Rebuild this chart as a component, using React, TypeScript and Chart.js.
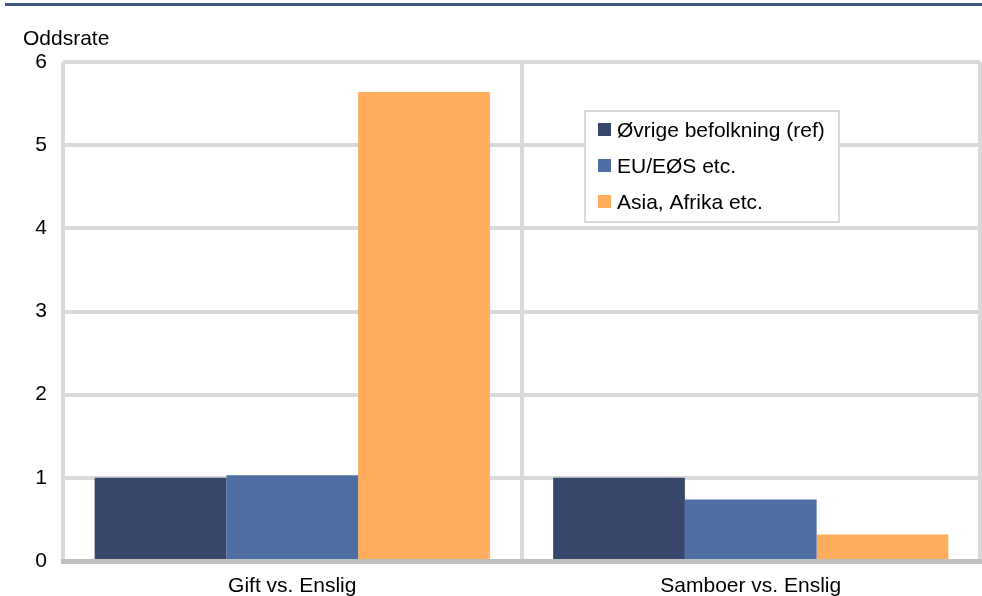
import React, { useEffect, useRef } from "react";
import { Chart, registerables } from "chart.js";

Chart.register(...registerables);

const categories = ["Gift vs. Enslig", "Samboer vs. Enslig"];
const seriesNames = ["Øvrige befolkning (ref)", "EU/EØS etc.", "Asia, Afrika etc."];
const refValues = [1.0, 1.0];
const euValues = [1.03, 0.74];
const asiaValues = [5.64, 0.32];
const seriesColors = ["#36476b", "#4f6ea3", "#ffac5c"];
const yTicks = [0, 1, 2, 3, 4, 5, 6];
const yTitle = "Oddsrate";

const FONT = "'Liberation Sans', Arial, sans-serif";

const decorPlugin = {
  id: "decor",
  beforeDraw(chart: any) {
    const ctx = chart.ctx;
    ctx.save();
    ctx.fillStyle = "#3f5886";
    ctx.fillRect(5, 3, chart.width - 5, 3);
    ctx.fillStyle = "#000";
    ctx.font = `21px ${FONT}`;
    ctx.textBaseline = "alphabetic";
    ctx.textAlign = "left";
    ctx.fillText(yTitle, 23, 45);
    ctx.restore();
  },
  afterDraw(chart: any) {
    const ctx = chart.ctx;
    const bx = 585, by = 111, bw = 254, bh = 111;
    ctx.save();
    ctx.fillStyle = "#fff";
    ctx.fillRect(bx, by, bw, bh);
    ctx.strokeStyle = "#d9d9d9";
    ctx.lineWidth = 2;
    ctx.strokeRect(bx, by, bw, bh);
    ctx.font = `21px ${FONT}`;
    ctx.textBaseline = "middle";
    ctx.textAlign = "left";
    chart.data.datasets.forEach((ds: any, i: number) => {
      const cy = 130 + i * 36;
      ctx.fillStyle = ds.backgroundColor;
      ctx.fillRect(598, cy - 7, 13, 13);
      ctx.fillStyle = "#000";
      ctx.fillText(ds.label, 617, cy + 1);
    });
    ctx.restore();
  },
};

export default function App() {
  const ref = useRef<HTMLCanvasElement>(null);
  useEffect(() => {
    document.body.style.margin = "0";
    const canvas = ref.current!;
    const values = [refValues, euValues, asiaValues];
    const chart = new Chart(canvas, {
      type: "bar",
      data: {
        labels: categories,
        datasets: seriesNames.map((name, i) => ({
          label: name,
          data: values[i],
          backgroundColor: seriesColors[i],
          borderWidth: 0,
          categoryPercentage: 0.862,
          barPercentage: 1.0,
        })),
      },
      options: {
        responsive: false,
        animation: false,
        devicePixelRatio: 1,
        layout: { padding: { top: 62, right: 2, left: 0, bottom: 0 } },
        plugins: {
          legend: { display: false },
          tooltip: { enabled: false },
          title: { display: false },
        },
        scales: {
          x: {
            z: 1,
            grid: {
              offset: true,
              color: "#d9d9d9",
              lineWidth: 4,
              drawTicks: false,
            },
            border: { display: true, color: "#bfbfbf", width: 5 },
            ticks: {
              color: "#000",
              font: { family: FONT, size: 21 },
              padding: 13,
            },
            afterFit(scale: any) {
              scale.height = 35;
            },
          },
          y: {
            min: 0,
            max: 6,
            afterBuildTicks(scale: any) {
              scale.ticks = yTicks.map((v) => ({ value: v }));
            },
            grid: {
              color: (c: any) => (c.tick && c.tick.value === 0 ? "rgba(0,0,0,0)" : "#d9d9d9"),
              lineWidth: 4,
              drawTicks: false,
            },
            border: { display: false },
            ticks: {
              color: "#000",
              font: { family: FONT, size: 21 },
              padding: 16,
            },
            afterFit(scale: any) {
              scale.width = 63;
            },
          },
        },
      },
      plugins: [decorPlugin],
    });
    return () => chart.destroy();
  }, []);
  return (
    <div style={{ width: 982, height: 596 }}>
      <canvas ref={ref} width={982} height={596} style={{ display: "block", width: 982, height: 596 }} />
    </div>
  );
}
